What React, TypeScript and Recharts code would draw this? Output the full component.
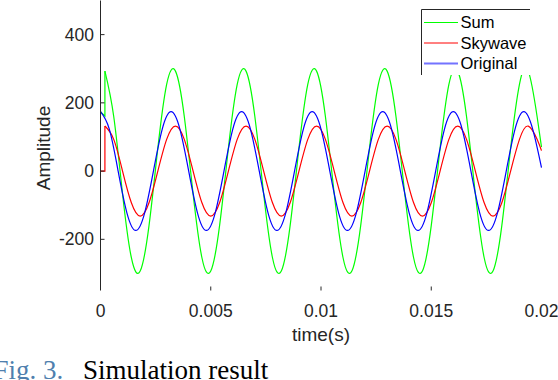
import React from 'react';
import { LineChart, Line, XAxis, YAxis } from 'recharts';

// sample times (s) of the steady part
const originalTime = [
  0, 0.0004, 0.0008, 0.0012, 0.0016, 0.002, 0.0024, 0.0028,
  0.0032, 0.0036, 0.004, 0.0044, 0.0048, 0.0052, 0.0056, 0.006,
  0.0064, 0.0068, 0.0072, 0.0076, 0.008, 0.0084, 0.0088, 0.0092,
  0.0096, 0.01, 0.0104, 0.0108, 0.0112, 0.0116, 0.012, 0.0124,
  0.0128, 0.0132, 0.0136, 0.014, 0.0144, 0.0148, 0.0152, 0.0156,
  0.016, 0.0164, 0.0168, 0.0172, 0.0176, 0.018, 0.0184, 0.0188,
  0.0192, 0.0196, 0.02,
];
const originalValue = [
  174, 123, 0, -123, -174, -123, 0, 123,
  174, 123, 0, -123, -174, -123, 0, 123,
  174, 123, 0, -123, -174, -123, 0, 123,
  174, 123, 0, -123, -174, -123, 0, 123,
  174, 123, 0, -123, -174, -123, 0, 123,
  174, 123, 0, -123, -174, -123, 0, 123,
  174, 123, 10,
];

const skyTime = [
  0.0002, 0.0006, 0.001, 0.0014, 0.0018, 0.0022, 0.0026, 0.003,
  0.0034, 0.0038, 0.0042, 0.0046, 0.005, 0.0054, 0.0058, 0.0062,
  0.0066, 0.007, 0.0074, 0.0078, 0.0082, 0.0086, 0.009, 0.0094,
  0.0098, 0.0102, 0.0106, 0.011, 0.0114, 0.0118, 0.0122, 0.0126,
  0.013, 0.0134, 0.0138, 0.0142, 0.0146, 0.015, 0.0154, 0.0158,
  0.0162, 0.0166, 0.017, 0.0174, 0.0178, 0.0182, 0.0186, 0.019,
  0.0194, 0.0198, 0.02,
];
const skyValue = [
  132, 93, 0, -93, -132, -93, 0, 93,
  132, 93, 0, -93, -132, -93, 0, 93,
  132, 93, 0, -93, -132, -93, 0, 93,
  132, 93, 0, -93, -132, -93, 0, 93,
  132, 93, 0, -93, -132, -93, 0, 93,
  132, 93, 0, -93, -132, -93, 0, 93,
  132, 93, 60,
];
const sumValue = [
  293, 160, -67, -254, -293, -160, 67, 254,
  293, 160, -67, -254, -293, -160, 67, 254,
  293, 160, -67, -254, -293, -160, 67, 254,
  293, 160, -67, -254, -293, -160, 67, 254,
  293, 160, -67, -254, -293, -160, 67, 254,
  293, 160, -67, -254, -293, -160, 67, 254,
  293, 160, 70,
];

// the start, before the skywave arrives (step at ~0.2 ms)
const leadTime = [0, 0.0002, 0.0002];
const skyLead = [0, 0, 132];
const sumLead = [174, 161, 293];

const xTicks = [0, 0.005, 0.01, 0.015, 0.02];
const yTicks = [-200, 0, 200, 400];

const legendItems = [
  { name: 'Sum', color: '#00ff00', width: 1 },
  { name: 'Skywave', color: '#ff0000', width: 1 },
  { name: 'Original', color: '#7373ff', width: 2 },
];

const zip = (ts: number[], vs: number[]) => ts.map((t, i) => ({ t, v: vs[i] }));

const axisColor = '#262626';
const font = '"Liberation Sans", Arial, sans-serif';

const BottomTick = (p: any) => {
  const v = p.payload.value;
  return (
    <g>
      {v > 0 && v < 0.02 && <line x1={p.x} x2={p.x} y1={p.y - 4} y2={p.y} stroke={axisColor} />}
      <text x={p.x} y={p.y + 26} textAnchor="middle" fontSize={17.5} fontFamily={font} fill={axisColor}>
        {String(v)}
      </text>
    </g>
  );
};

const TopTick = (p: any) => {
  const v = p.payload.value;
  if (v <= 0 || v >= 0.02) return <g />;
  return <line x1={p.x} x2={p.x} y1={p.y} y2={p.y + 4} stroke={axisColor} />;
};

const LeftTick = (p: any) => (
  <g>
    <line x1={p.x} x2={p.x + 4} y1={p.y} y2={p.y} stroke={axisColor} />
    <text x={p.x - 6.5} y={p.y + 6} textAnchor="end" fontSize={17.5} fontFamily={font} fill={axisColor}>
      {String(p.payload.value)}
    </text>
  </g>
);

const RightTick = (p: any) => {
  if (p.payload.value === 0) return <g />;
  return <line x1={p.x - 4} x2={p.x} y1={p.y} y2={p.y} stroke={axisColor} />;
};

export default function App() {
  const line = { xAxisId: 'b', yAxisId: 'l', dataKey: 'v', dot: false, activeDot: false, isAnimationActive: false };
  return (
    <div style={{ position: 'absolute', left: 0, top: 0, width: 558, height: 380, background: '#fff' }}>
      <LineChart width={558} height={380} margin={{ top: 0.5, right: 16.5, bottom: 59.5, left: 0 }}>
        <XAxis xAxisId="b" type="number" dataKey="t" domain={[0, 0.02]} ticks={xTicks} interval={0}
          height={30} tickSize={0} tickMargin={0} axisLine={false} tickLine={false} tick={BottomTick} />
        <XAxis xAxisId="t" orientation="top" type="number" dataKey="t" domain={[0, 0.02]} ticks={xTicks} interval={0}
          height={0} tickSize={0} tickMargin={0} axisLine={{ stroke: axisColor }} tickLine={false} tick={TopTick} />
        <YAxis yAxisId="l" type="number" domain={[-350, 500]} ticks={yTicks} interval={0}
          width={100.5} tickSize={0} tickMargin={0} axisLine={{ stroke: axisColor }} tickLine={false} tick={LeftTick} />
        <YAxis yAxisId="r" orientation="right" type="number" domain={[-350, 500]} ticks={yTicks} interval={0}
          width={0} tickSize={0} tickMargin={0} axisLine={false} tickLine={false} tick={RightTick} />

        <Line {...line} data={zip(leadTime, sumLead)} type="linear" stroke="#00ff00" strokeWidth={1.2} legendType="none" />
        <Line {...line} data={zip(skyTime, sumValue)} type="natural" stroke="#00ff00" strokeWidth={1.2} name="Sum" />
        <Line {...line} data={zip(leadTime, skyLead)} type="linear" stroke="#ff0000" strokeWidth={1.2} legendType="none" />
        <Line {...line} data={zip(skyTime, skyValue)} type="natural" stroke="#ff0000" strokeWidth={1.2} name="Skywave" />
        <Line {...line} data={zip(originalTime, originalValue)} type="natural" stroke="#0000ff" strokeWidth={1.2} name="Original" />
      </LineChart>

      <svg width={558} height={380} style={{ position: 'absolute', left: 0, top: 0, pointerEvents: 'none' }}>
        <text transform="translate(49.5,148) rotate(-90)" textAnchor="middle" fontSize={19} fontFamily={font} fill={axisColor}>
          Amplitude
        </text>
        <text x={321} y={341} textAnchor="middle" fontSize={19} fontFamily={font} fill={axisColor}>
          time(s)
        </text>

        <rect x={421.5} y={9.5} width={108.5} height={65.5} fill="#fff" />
        <line x1={421.5} x2={421.5} y1={9.5} y2={75} stroke={axisColor} />
        <line x1={421.5} x2={530} y1={9.5} y2={9.5} stroke={axisColor} />
        {legendItems.map((it, i) => {
          const y = 22.5 + i * 20.5;
          return (
            <g key={it.name}>
              <line x1={424} x2={458} y1={y} y2={y} stroke={it.color} strokeWidth={it.width} />
              <text x={460.5} y={y + 5.8} fontSize={16.5} fontFamily={font} fill="#000">{it.name}</text>
            </g>
          );
        })}

        <text x={-6.5} y={379} fontSize={27} fontFamily='"Liberation Serif", "Times New Roman", serif' fill="#4f7fae">
          Fig. 3.
        </text>
        <text x={83} y={379} fontSize={27} fontFamily='"Liberation Serif", "Times New Roman", serif' fill="#000">
          Simulation result
        </text>
      </svg>
    </div>
  );
}
